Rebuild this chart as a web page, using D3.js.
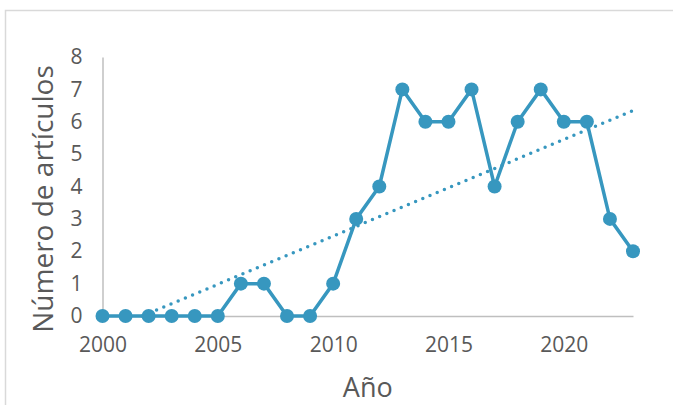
<!DOCTYPE html>
<html>
<head>
<meta charset="utf-8">
<script src="https://cdn.jsdelivr.net/npm/d3@7"></script>
<style>
  html, body { margin: 0; padding: 0; background: #fff; }
  svg { display: block; }
  text { font-family: "Open Sans", "Liberation Sans", sans-serif; fill: #595959; }
</style>
</head>
<body>
<svg id="chart" width="673" height="405"></svg>
<script>
const years = [2000,2001,2002,2003,2004,2005,2006,2007,2008,2009,2010,2011,2012,2013,2014,2015,2016,2017,2018,2019,2020,2021,2022,2023];
const articles = [0,0,0,0,0,0,1,1,0,0,1,3,4,7,6,6,7,4,6,7,6,6,3,2];
const xTicks = [2000,2005,2010,2015,2020];
const yTicks = [0,1,2,3,4,5,6,7,8];
const xTitle = "Año";
const yTitle = "Número de artículos";

const color = "#3797BF";
const svg = d3.select("#chart");

svg.append("rect").attr("x",5.5).attr("y",10.5).attr("width",720).attr("height",500)
  .attr("fill","#fff").attr("stroke","#D9D9D9").attr("stroke-width",1.5);

const x = d3.scaleLinear().domain([2000,2023]).range([102.5,633]);
const y = d3.scaleLinear().domain([0,8]).range([316,57]);

const yAxis = d3.axisLeft(y).tickValues(yTicks).tickSize(0).tickPadding(20).tickFormat(d3.format("d"));
const gy = svg.append("g").attr("transform",`translate(${x(2000)},0)`).call(yAxis);
gy.select(".domain").attr("stroke","#BFBFBF").attr("stroke-width",1.5);
gy.selectAll("text").style("font-size","21px").attr("fill","#595959");

const xAxis = d3.axisBottom(x).tickValues(xTicks).tickSize(0).tickPadding(21).tickFormat(d3.format("d"));
const gx = svg.append("g").attr("transform",`translate(0,${y(0)})`).call(xAxis);
gx.select(".domain").attr("stroke","#BFBFBF").attr("stroke-width",1.5);
gx.selectAll("text").style("font-size","21px").attr("fill","#595959");

// linear least-squares trendline
const mx = d3.mean(years), my = d3.mean(articles);
const sxy = d3.sum(years, (v,i) => (v-mx)*(articles[i]-my));
const sxx = d3.sum(years, v => (v-mx)*(v-mx));
const slope = sxy/sxx, intercept = my - slope*mx;
const x0 = Math.max(2000, -intercept/slope);
const trend = [[x0, slope*x0+intercept],[2023, slope*2023+intercept]];

svg.append("path")
  .datum(years.map((v,i)=>[v,articles[i]]))
  .attr("fill","none").attr("stroke",color).attr("stroke-width",3.5)
  .attr("stroke-linejoin","round")
  .attr("d", d3.line().x(d=>x(d[0])).y(d=>y(d[1])));

svg.selectAll("circle.pt").data(years.map((v,i)=>[v,articles[i]])).join("circle")
  .attr("class","pt").attr("cx",d=>x(d[0])).attr("cy",d=>y(d[1])).attr("r",7).attr("fill",color);

svg.append("path").datum(trend)
  .attr("fill","none").attr("stroke",color).attr("stroke-width",3.5)
  .attr("stroke-linecap","round").attr("stroke-dasharray","0 7.8")
  .attr("d", d3.line().x(d=>x(d[0])).y(d=>y(d[1])));

svg.append("text").attr("x",(x(2000)+x(2023))/2).attr("y",397).attr("text-anchor","middle")
  .style("font-size","27px").text(xTitle);
svg.append("text").attr("transform","translate(53,199) rotate(-90)").attr("text-anchor","middle")
  .style("font-size","28px").text(yTitle);
</script>
</body>
</html>
